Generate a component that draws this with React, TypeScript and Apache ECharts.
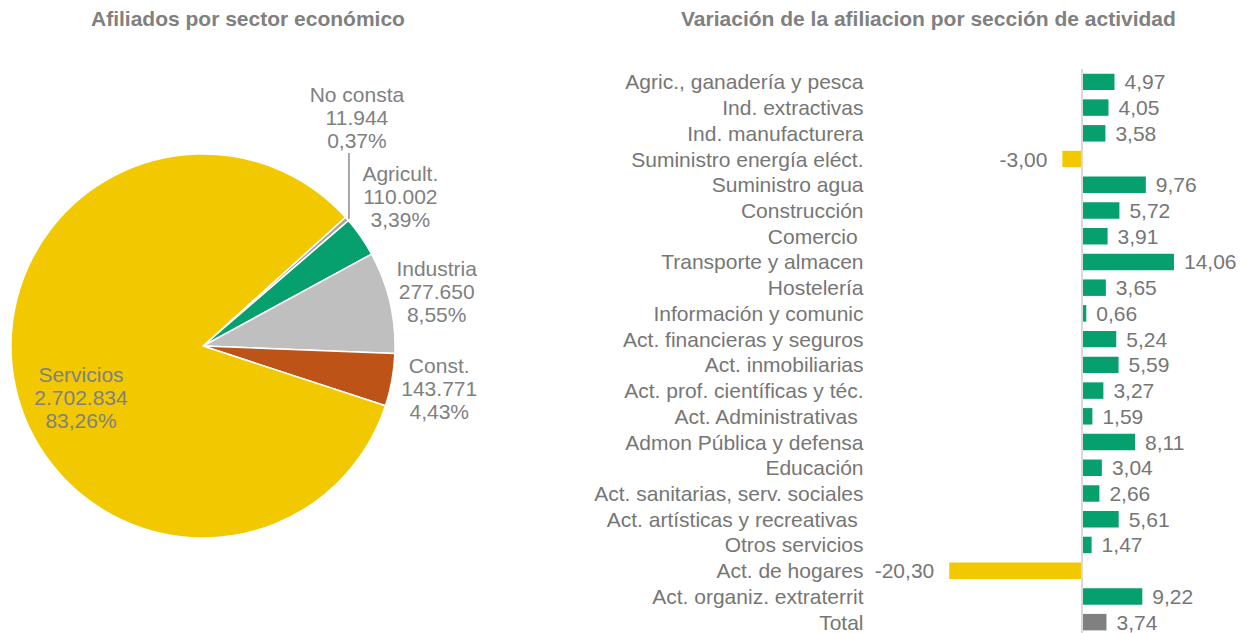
import React, { useEffect, useRef } from 'react';
import * as echarts from 'echarts';

// ---- Pie data ----
const pieNames = ['No consta', 'Agricult.', 'Industria', 'Const.', 'Servicios'];
const pieValues = [11944, 110002, 277650, 143771, 2702834];
const pieColors = ['#A5A5A5', '#06A06E', '#BFBFBF', '#BD5316', '#F2C800'];

// ---- Bar data ----
const categories = [
  'Agric., ganadería y pesca',
  'Ind. extractivas',
  'Ind. manufacturera',
  'Suministro energía eléct.',
  'Suministro agua',
  'Construcción',
  'Comercio ',
  'Transporte y almacen',
  'Hostelería',
  'Información y comunic',
  'Act. financieras y seguros',
  'Act. inmobiliarias',
  'Act. prof. científicas y téc.',
  'Act. Administrativas ',
  'Admon Pública y defensa',
  'Educación',
  'Act. sanitarias, serv. sociales',
  'Act. artísticas y recreativas ',
  'Otros servicios',
  'Act. de hogares',
  'Act. organiz. extraterrit',
  'Total',
];
const variation = [
  4.97, 4.05, 3.58, -3.0, 9.76, 5.72, 3.91, 14.06, 3.65, 0.66, 5.24, 5.59, 3.27,
  1.59, 8.11, 3.04, 2.66, 5.61, 1.47, -20.3, 9.22, 3.74,
];

const titles = ['Afiliados por sector económico', 'Variación de la afiliacion por sección de actividad'];

const FONT = '"Liberation Sans", Arial, Helvetica, sans-serif';
const TEXT = '#767676';
const PIE_TEXT = '#808080';
const FS = 21;

const CX = 203;
const CY = 346;
const R = 192;
const START = 42.1;

const fmtInt = (v: number) => String(v).replace(/\B(?=(\d{3})+(?!\d))/g, '.');
const fmtDec = (v: number) => v.toFixed(2).replace('.', ',');

export default function App() {
  const ref = useRef<HTMLDivElement>(null);

  useEffect(() => {
    if (!ref.current) return;
    const chart = echarts.init(ref.current, null, { renderer: 'svg' });

    const total = pieValues.reduce((a, b) => a + b, 0);
    const mids: number[] = [];
    let cum = 0;
    pieValues.forEach((v) => {
      mids.push(START - ((cum + v / 2) / total) * 360);
      cum += v;
    });

    const pieData = pieNames.map((n, i) => ({
      name: n,
      value: pieValues[i],
      itemStyle: { color: pieColors[i] },
      labelLine: { show: i === 0, lineStyle: { color: '#8C8C8C', width: 1.5 } },
    }));

    const barData = variation.map((v, i) => ({
      value: v,
      itemStyle: {
        color: categories[i] === 'Total' ? '#808080' : v < 0 ? '#F2C800' : '#06A06E',
      },
      label: { position: v < 0 ? 'left' : 'right', distance: v < 0 ? 15 : 10 },
    }));

    const option: any = {
      animation: false,
      backgroundColor: '#ffffff',
      title: [
        {
          text: titles[0],
          left: 91,
          top: 8,
          padding: 0,
          textStyle: { fontFamily: FONT, fontSize: FS, fontWeight: 'bold', color: '#808080' },
        },
        {
          text: titles[1],
          left: 681,
          top: 8,
          padding: 0,
          textStyle: { fontFamily: FONT, fontSize: FS, fontWeight: 'bold', color: '#808080' },
        },
      ],
      grid: {
        left: 918.5,
        width: 261.6,
        top: 69,
        height: 566,
        containLabel: false,
        outerBoundsMode: 'none',
      },
      xAxis: {
        type: 'value',
        min: -25,
        max: 15,
        show: false,
        splitLine: { show: false },
      },
      yAxis: {
        type: 'category',
        inverse: true,
        data: categories,
        axisLine: { show: false },
        axisTick: { show: false },
        splitLine: { show: false },
        axisLabel: {
          interval: 0,
          margin: 55,
          fontFamily: FONT,
          fontSize: FS,
          color: TEXT,
        },
      },
      series: [
        {
          type: 'pie',
          center: [CX, CY],
          radius: R,
          startAngle: START,
          clockwise: true,
          avoidLabelOverlap: false,
          itemStyle: { borderColor: '#ffffff', borderWidth: 1.5 },
          label: {
            show: true,
            position: 'outside',
            fontFamily: FONT,
            fontSize: FS,
            lineHeight: 23,
            color: PIE_TEXT,
            formatter: (p: any) =>
              `${p.name}\n${fmtInt(p.value)}\n${p.percent.toFixed(2).replace('.', ',')}%`,
          },
          labelLine: { show: false },
          labelLayout: (p: any) => {
            const i = p.dataIndex;
            const name = pieNames[i];
            const a = (mids[i] * Math.PI) / 180;
            const ax = CX + R * Math.cos(a);
            const ay = CY - R * Math.sin(a);
            if (name === 'Servicios') {
              const a2 = ((mids[i] + 11) * Math.PI) / 180;
              return {
                x: CX + 0.69 * R * Math.cos(a2),
                y: CY - 0.69 * R * Math.sin(a2),
                align: 'center',
                verticalAlign: 'middle',
              };
            }
            if (name === 'No consta') {
              const lx = ax + 10;
              const ly = ay - 101;
              return {
                x: lx,
                y: ly,
                align: 'center',
                verticalAlign: 'middle',
                labelLinePoints: [
                  [ax + 2, ay],
                  [ax + 2, ay - 66],
                  [ax + 2, ay - 66],
                ],
              };
            }
            const shift = name === 'Agricult.' ? 2.5 : 0;
            const rr = (name === 'Agricult.' ? 1.29 : 1.25) * R;
            const a3 = ((mids[i] + shift) * Math.PI) / 180;
            return {
              x: CX + rr * Math.cos(a3),
              y: CY - rr * Math.sin(a3),
              align: 'center',
              verticalAlign: 'middle',
            };
          },
          data: pieData,
        },
        {
          type: 'bar',
          xAxisIndex: 0,
          yAxisIndex: 0,
          barWidth: '64%',
          data: barData,
          label: {
            show: true,
            fontFamily: FONT,
            fontSize: FS,
            color: TEXT,
            formatter: (p: any) => fmtDec(p.value),
          },
          markLine: {
            silent: true,
            symbol: 'none',
            label: { show: false },
            lineStyle: { color: '#D9D9D9', type: 'solid', width: 2 },
            data: [{ xAxis: 0 }],
          },
        },
      ],
    };

    chart.setOption(option);
    return () => chart.dispose();
  }, []);

  return (
    <div
      ref={ref}
      style={{ position: 'fixed', left: 0, top: 0, width: 1252, height: 633, background: '#fff' }}
    />
  );
}
